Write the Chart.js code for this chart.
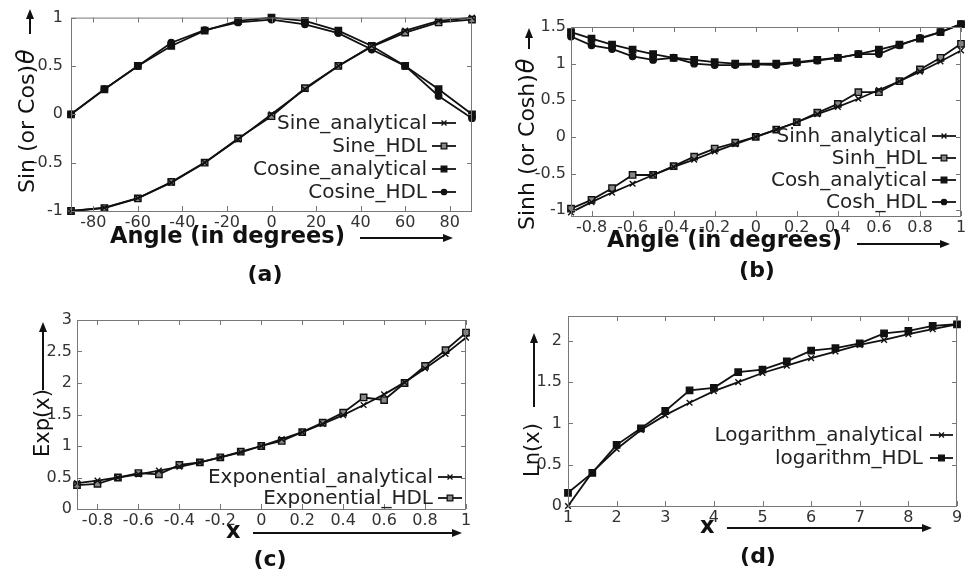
<!DOCTYPE html>
<html>
<head>
<meta charset="utf-8">
<script src="https://cdn.jsdelivr.net/npm/chart.js@4.4.0/dist/chart.umd.min.js"></script>
<style>
  html, body { margin: 0; padding: 0; background: #fff; }
  #wrap { position: relative; width: 975px; height: 577px; overflow: hidden; }
  .panel { position: absolute; }
</style>
</head>
<body>
<div id="wrap">
  <div class="panel" style="left:0;top:0;width:487px;height:288px"><canvas id="chartA"></canvas></div>
  <div class="panel" style="left:487px;top:0;width:488px;height:288px"><canvas id="chartB"></canvas></div>
  <div class="panel" style="left:0;top:288px;width:487px;height:289px"><canvas id="chartC"></canvas></div>
  <div class="panel" style="left:487px;top:288px;width:488px;height:289px"><canvas id="chartD"></canvas></div>
</div>
<script>
// (a) sine / cosine
const angleDeg = [-90, -75, -60, -45, -30, -15, 0, 15, 30, 45, 60, 75, 90];
const sineAnalytical = [-1, -0.966, -0.866, -0.707, -0.5, -0.259, 0, 0.259, 0.5, 0.707, 0.866, 0.966, 1];
const sineHdl = [-1, -0.97, -0.87, -0.7, -0.5, -0.25, -0.02, 0.27, 0.5, 0.7, 0.845, 0.95, 0.98];
const cosineAnalytical = [0, 0.259, 0.5, 0.707, 0.866, 0.966, 1, 0.966, 0.866, 0.707, 0.5, 0.259, 0];
const cosineHdl = [0, 0.26, 0.5, 0.74, 0.87, 0.95, 0.98, 0.93, 0.84, 0.67, 0.5, 0.19, -0.04];
const angleTicks = [-80, -60, -40, -20, 0, 20, 40, 60, 80];
const trigTicks = [-1, -0.5, 0, 0.5, 1];

// (b) sinh / cosh
const hypX = [-0.9, -0.8, -0.7, -0.6, -0.5, -0.4, -0.3, -0.2, -0.1, 0, 0.1, 0.2, 0.3, 0.4, 0.5, 0.6, 0.7, 0.8, 0.9, 1];
const sinhAnalytical = [-1.03, -0.89, -0.76, -0.64, -0.52, -0.41, -0.31, -0.2, -0.1, 0, 0.1, 0.2, 0.31, 0.41, 0.52, 0.64, 0.76, 0.89, 1.03, 1.18];
const sinhHdl = [-0.98, -0.86, -0.7, -0.52, -0.52, -0.4, -0.27, -0.16, -0.08, 0, 0.1, 0.2, 0.33, 0.45, 0.61, 0.61, 0.76, 0.92, 1.08, 1.27];
const coshAnalytical = [1.43, 1.34, 1.26, 1.19, 1.13, 1.08, 1.05, 1.02, 1.0, 1.0, 1.0, 1.02, 1.05, 1.08, 1.13, 1.19, 1.26, 1.34, 1.43, 1.54];
const coshHdl = [1.37, 1.25, 1.2, 1.1, 1.05, 1.08, 1.0, 0.98, 0.98, 0.99, 0.98, 1.01, 1.04, 1.08, 1.13, 1.13, 1.25, 1.35, 1.43, 1.54];
const unitTicks = [-0.8, -0.6, -0.4, -0.2, 0, 0.2, 0.4, 0.6, 0.8, 1];
const hypTicks = [-1, -0.5, 0, 0.5, 1, 1.5];

// (c) exponential
const expX = hypX;
const expAnalytical = [0.41, 0.45, 0.5, 0.55, 0.61, 0.67, 0.74, 0.82, 0.9, 1, 1.11, 1.22, 1.35, 1.49, 1.65, 1.82, 2.01, 2.23, 2.46, 2.72];
const expHdl = [0.38, 0.4, 0.5, 0.57, 0.55, 0.7, 0.74, 0.82, 0.91, 1.0, 1.08, 1.22, 1.37, 1.53, 1.77, 1.73, 2.0, 2.27, 2.52, 2.8];
const expTicks = [0, 0.5, 1, 1.5, 2, 2.5, 3];

// (d) logarithm
const logX = [1, 1.5, 2, 2.5, 3, 3.5, 4, 4.5, 5, 5.5, 6, 6.5, 7, 7.5, 8, 8.5, 9];
const lnAnalytical = [0, 0.41, 0.69, 0.92, 1.1, 1.25, 1.39, 1.5, 1.61, 1.7, 1.79, 1.87, 1.95, 2.01, 2.08, 2.14, 2.2];
const lnHdl = [0.16, 0.4, 0.74, 0.94, 1.15, 1.4, 1.43, 1.62, 1.65, 1.75, 1.88, 1.91, 1.97, 2.09, 2.12, 2.18, 2.2];
const logTicks = [1, 2, 3, 4, 5, 6, 7, 8, 9];
const lnTicks = [0, 0.5, 1, 1.5, 2];

const FONT = 'DejaVu Sans, Verdana, sans-serif';
const X_AXIS_H = 30;

const MARKERS = {
  cross: { style: 'crossRot', r: 4, fill: '#111' },
  box: { style: 'rect', r: 4.5, fill: '#888' },
  solidBox: { style: 'rect', r: 4.5, fill: '#111' },
  dot: { style: 'circle', r: 3.2, fill: '#111' },
};

function series(label, xs, ys, marker) {
  return {
    label,
    data: xs.map((x, i) => ({ x, y: ys[i] })),
    borderColor: '#111',
    borderWidth: 1.8,
    tension: 0,
    clip: false,
    pointStyle: marker.style,
    pointRadius: marker.r,
    pointBorderWidth: 1.4,
    pointBackgroundColor: marker.fill,
    pointBorderColor: '#111',
    marker,
  };
}

function arrow(ctx, x0, y0, x1, y1) {
  const ang = Math.atan2(y1 - y0, x1 - x0);
  const hl = 10, hw = 4;
  ctx.beginPath();
  ctx.moveTo(x0, y0);
  ctx.lineTo(x1 - Math.cos(ang) * hl * 0.8, y1 - Math.sin(ang) * hl * 0.8);
  ctx.lineWidth = 2;
  ctx.strokeStyle = '#111';
  ctx.stroke();
  ctx.beginPath();
  ctx.moveTo(x1, y1);
  ctx.lineTo(x1 - Math.cos(ang) * hl - Math.sin(ang) * hw, y1 - Math.sin(ang) * hl + Math.cos(ang) * hw);
  ctx.lineTo(x1 - Math.cos(ang) * hl + Math.sin(ang) * hw, y1 - Math.sin(ang) * hl - Math.cos(ang) * hw);
  ctx.closePath();
  ctx.fillStyle = '#111';
  ctx.fill();
}

// frame, inward ticks, legend, titles and arrows (gnuplot look)
const panelDecor = {
  id: 'panelDecor',
  afterDraw(chart, args, o) {
    const { ctx, chartArea: a, scales } = chart;
    const ox = o.box.left, oy = o.box.top;
    ctx.save();

    ctx.strokeStyle = '#777';
    ctx.lineWidth = 1;
    ctx.strokeRect(a.left + 0.5, a.top + 0.5, a.right - a.left - 1, a.bottom - a.top);
    ctx.beginPath();
    scales.x.ticks.forEach((t) => {
      const px = Math.round(scales.x.getPixelForValue(t.value)) + 0.5;
      ctx.moveTo(px, a.bottom); ctx.lineTo(px, a.bottom - 5);
      ctx.moveTo(px, a.top); ctx.lineTo(px, a.top + 5);
    });
    scales.y.ticks.forEach((t) => {
      const py = Math.round(scales.y.getPixelForValue(t.value)) + 0.5;
      ctx.moveTo(a.left, py); ctx.lineTo(a.left + 5, py);
      ctx.moveTo(a.right, py); ctx.lineTo(a.right - 5, py);
    });
    ctx.stroke();

    // legend
    const lg = o.legend;
    ctx.font = '20px ' + FONT;
    ctx.textAlign = 'right';
    ctx.textBaseline = 'middle';
    chart.data.datasets.forEach((ds, i) => {
      const y = lg.rows[i] - oy;
      ctx.fillStyle = '#222';
      ctx.fillText(ds.label, lg.right - ox, y + 1);
      ctx.beginPath();
      ctx.moveTo(lg.x0 - ox, y);
      ctx.lineTo(lg.x1 - ox, y);
      ctx.strokeStyle = '#111';
      ctx.lineWidth = 1.8;
      ctx.stroke();
      ctx.fillStyle = ds.marker.fill;
      ctx.lineWidth = 1.3;
      Chart.helpers.drawPoint(ctx, { pointStyle: ds.marker.style, radius: ds.marker.r - 0.5, borderWidth: 1.3, rotation: 0 },
        (lg.x0 + lg.x1) / 2 - ox, y);
    });

    // y title, rotated
    ctx.fillStyle = '#111';
    ctx.textAlign = 'left';
    ctx.textBaseline = 'alphabetic';
    ctx.save();
    ctx.translate(o.yTitle.x - ox, o.yTitle.y - oy);
    ctx.rotate(-Math.PI / 2);
    ctx.font = o.yTitle.size + 'px ' + FONT;
    ctx.fillText(o.yTitle.text, 0, 0);
    if (o.yTitle.theta) {
      const w = ctx.measureText(o.yTitle.text).width;
      ctx.font = 'italic 24px ' + FONT;
      ctx.fillText('θ', w + 1, 0);
    }
    ctx.restore();
    arrow(ctx, o.yArrow.x - ox, o.yArrow.y0 - oy, o.yArrow.x - ox, o.yArrow.y1 - oy);

    // x title
    ctx.font = 'bold 22.5px ' + FONT;
    ctx.fillText(o.xTitle.text, o.xTitle.x - ox, o.xTitle.y - oy);
    arrow(ctx, o.xArrow.x0 - ox, o.xArrow.y - oy, o.xArrow.x1 - ox, o.xArrow.y - oy);

    // panel label
    ctx.font = 'bold 22px ' + FONT;
    ctx.textAlign = 'center';
    ctx.fillText(o.label.text, o.label.x - ox, o.label.y - oy);
    ctx.restore();
  },
};

function makePanel(id, L, datasets, xr, yr) {
  const tickFont = { family: FONT, size: 16 };
  new Chart(document.getElementById(id), {
    type: 'line',
    data: { datasets },
    options: {
      responsive: true,
      maintainAspectRatio: false,
      animation: false,
      events: [],
      layout: {
        padding: {
          left: 0,
          top: L.area.top - L.box.top,
          right: L.box.left + L.box.width - L.area.right,
          bottom: L.box.top + L.box.height - L.area.bottom - X_AXIS_H,
        },
      },
      plugins: { legend: { display: false }, tooltip: { enabled: false }, panelDecor: L },
      scales: {
        x: {
          type: 'linear',
          min: xr.min,
          max: xr.max,
          grid: { display: false, drawTicks: false },
          border: { display: false },
          afterBuildTicks: (s) => { s.ticks = xr.ticks.map((v) => ({ value: v })); },
          afterFit: (s) => { s.height = X_AXIS_H; },
          ticks: { font: tickFont, color: '#333', padding: 2, maxRotation: 0, autoSkip: false, callback: (v) => String(v) },
        },
        y: {
          type: 'linear',
          min: yr.min,
          max: yr.max,
          grid: { display: false, drawTicks: false },
          border: { display: false },
          afterBuildTicks: (s) => { s.ticks = yr.ticks.map((v) => ({ value: v })); },
          afterFit: (s) => { s.width = L.area.left - L.box.left; },
          ticks: { font: tickFont, color: '#333', padding: L.yPad, autoSkip: false, callback: (v) => String(v) },
        },
      },
    },
    plugins: [panelDecor],
  });
}

makePanel('chartA', {
  box: { left: 0, top: 0, width: 487, height: 288 },
  area: { left: 71, top: 14, right: 472, bottom: 211 },
  yPad: 8,
  legend: { right: 427, x0: 432, x1: 456, rows: [123, 146, 169, 192] },
  yTitle: { text: 'Sin (or Cos)', size: 22, theta: true, x: 34, y: 193 },
  yArrow: { x: 30, y0: 34, y1: 9 },
  xTitle: { text: 'Angle (in degrees)', x: 110, y: 243 },
  xArrow: { x0: 360, x1: 453, y: 238 },
  label: { text: '(a)', x: 265, y: 281 },
}, [
  series('Sine_analytical', angleDeg, sineAnalytical, MARKERS.cross),
  series('Sine_HDL', angleDeg, sineHdl, MARKERS.box),
  series('Cosine_analytical', angleDeg, cosineAnalytical, MARKERS.solidBox),
  series('Cosine_HDL', angleDeg, cosineHdl, MARKERS.dot),
], { min: -90, max: 90, ticks: angleTicks }, { min: -1, max: 1, ticks: trigTicks });

makePanel('chartB', {
  box: { left: 487, top: 0, width: 488, height: 288 },
  area: { left: 571, top: 27, right: 961, bottom: 216 },
  yPad: 5,
  legend: { right: 927, x0: 932, x1: 956, rows: [136, 158, 180, 202] },
  yTitle: { text: 'Sinh (or Cosh)', size: 22, theta: true, x: 534, y: 230 },
  yArrow: { x: 529, y0: 49, y1: 28 },
  xTitle: { text: 'Angle (in degrees)', x: 607, y: 247 },
  xArrow: { x0: 857, x1: 950, y: 244 },
  label: { text: '(b)', x: 757, y: 277 },
}, [
  series('Sinh_analytical', hypX, sinhAnalytical, MARKERS.cross),
  series('Sinh_HDL', hypX, sinhHdl, MARKERS.box),
  series('Cosh_analytical', hypX, coshAnalytical, MARKERS.solidBox),
  series('Cosh_HDL', hypX, coshHdl, MARKERS.dot),
], { min: -0.9, max: 1, ticks: unitTicks }, { min: -1.08, max: 1.5, ticks: hypTicks });

makePanel('chartC', {
  box: { left: 0, top: 288, width: 487, height: 289 },
  area: { left: 77, top: 320, right: 466, bottom: 509 },
  yPad: 5,
  legend: { right: 433, x0: 438, x1: 462, rows: [477, 498] },
  yTitle: { text: 'Exp(x)', size: 21, x: 49, y: 457 },
  yArrow: { x: 43, y0: 390, y1: 322 },
  xTitle: { text: 'x', x: 226, y: 538 },
  xArrow: { x0: 253, x1: 462, y: 533 },
  label: { text: '(c)', x: 270, y: 566 },
}, [
  series('Exponential_analytical', expX, expAnalytical, MARKERS.cross),
  series('Exponential_HDL', expX, expHdl, MARKERS.box),
], { min: -0.9, max: 1, ticks: unitTicks }, { min: 0, max: 3, ticks: expTicks });

makePanel('chartD', {
  box: { left: 487, top: 288, width: 488, height: 289 },
  area: { left: 568, top: 316, right: 957, bottom: 506 },
  yPad: 6,
  legend: { right: 923, x0: 930, x1: 953, rows: [435, 458] },
  yTitle: { text: 'Ln(x)', size: 21, x: 539, y: 477 },
  yArrow: { x: 534, y0: 407, y1: 333 },
  xTitle: { text: 'x', x: 700, y: 533 },
  xArrow: { x0: 727, x1: 932, y: 528 },
  label: { text: '(d)', x: 758, y: 563 },
}, [
  series('Logarithm_analytical', logX, lnAnalytical, MARKERS.cross),
  series('logarithm_HDL', logX, lnHdl, MARKERS.solidBox),
], { min: 1, max: 9, ticks: logTicks }, { min: 0, max: 2.3, ticks: lnTicks });
</script>
</body>
</html>
